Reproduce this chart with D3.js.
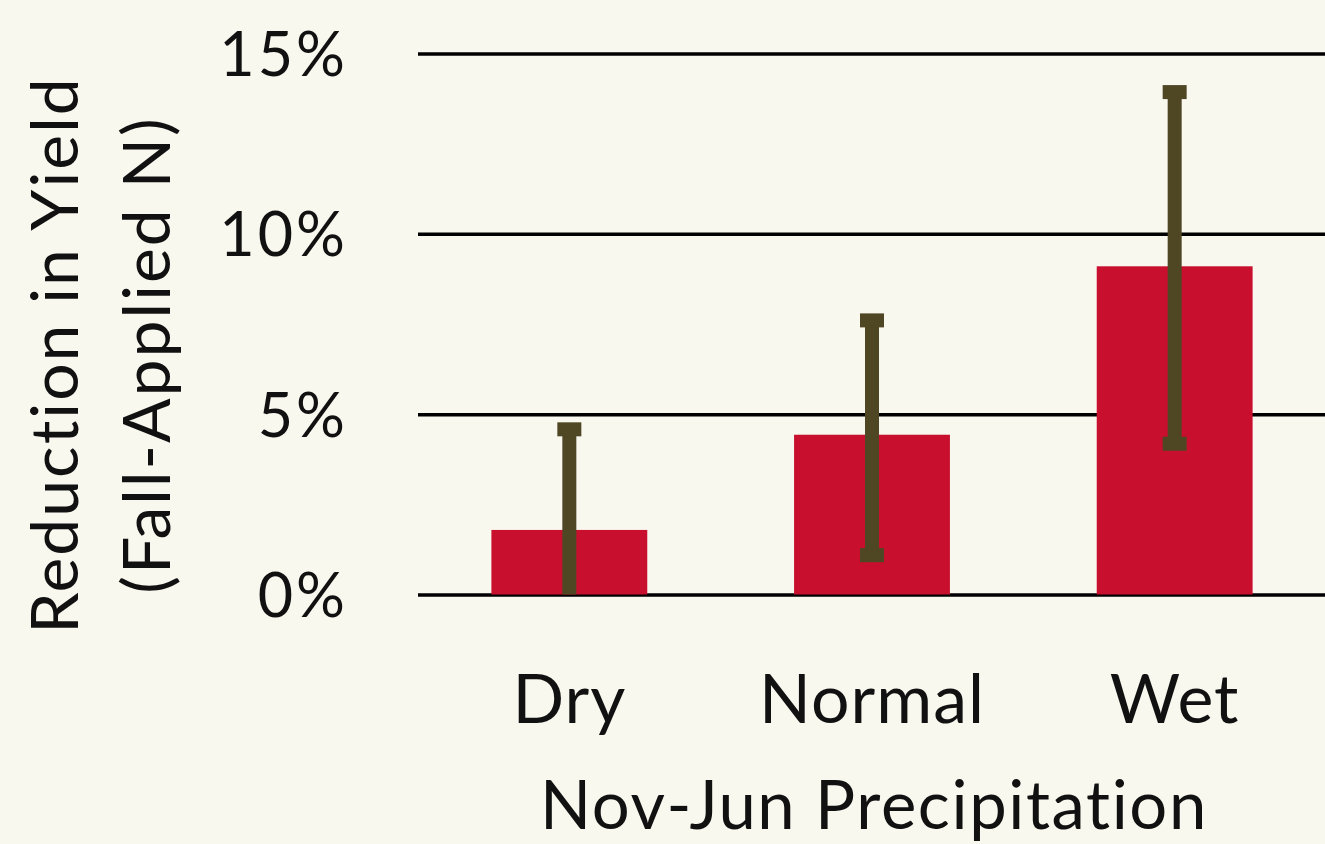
<!DOCTYPE html>
<html>
<head>
<meta charset="utf-8">
<script src="https://cdn.jsdelivr.net/npm/d3@7"></script>
<style>
  html, body { margin: 0; padding: 0; background: #F9F8EF; }
  svg { display: block; }
  text { font-family: Lato, "Open Sans", sans-serif; fill: #111; }
</style>
</head>
<body>
<svg id="chart" width="1325" height="844"></svg>
<script>
const categories = ["Dry", "Normal", "Wet"];
const values = [0.0179, 0.0443, 0.0910];
const errUpper = [0.0458, 0.0760, 0.1393];
const errLower = [-0.0100, 0.0109, 0.0418];
const yTicks = [0, 0.05, 0.10, 0.15];
const xTitle = "Nov-Jun Precipitation";
const yTitleLines = ["Reduction in Yield", "(Fall-Applied N)"];

const svg = d3.select("#chart");
const W = 1325, H = 844;
svg.append("rect").attr("width", W).attr("height", H).attr("fill", "#F9F8EF");

const x = d3.scaleBand().domain(categories).range([418, 1326])
  .paddingInner(0.485).paddingOuter(0.2425);
const y = d3.scaleLinear().domain([0, 0.15]).range([594.5, 53.5]);

svg.append("clipPath").attr("id", "plotclip").append("rect")
  .attr("x", 418).attr("y", 0).attr("width", 910).attr("height", y(0));

// gridlines
const grid = svg.append("g").call(
  d3.axisLeft(y).tickValues(yTicks).tickSize(-(1325 - 418)).tickFormat(d3.format(".0%"))
).attr("transform", "translate(418,0)");
grid.select(".domain").remove();
grid.selectAll(".tick line").attr("stroke", "#000").attr("stroke-width", 3.5);
grid.selectAll(".tick text")
  .attr("x", -70).attr("dy", "0.36em")
  .style("font-size", "61px").style("letter-spacing", "3px").attr("fill", "#111");

// bars
svg.append("g").selectAll("rect").data(categories).join("rect")
  .attr("x", d => x(d))
  .attr("width", x.bandwidth())
  .attr("y", (d, i) => y(values[i]))
  .attr("height", (d, i) => y(0) - y(values[i]))
  .attr("fill", "#C8102E");

// error bars
const eb = svg.append("g").attr("clip-path", "url(#plotclip)");
categories.forEach((c, i) => {
  const cx = x(c) + x.bandwidth() / 2;
  eb.append("rect").attr("x", cx - 7).attr("width", 14)
    .attr("y", y(errUpper[i])).attr("height", y(errLower[i]) - y(errUpper[i]))
    .attr("fill", "#4F4624");
  [errUpper[i], errLower[i]].forEach(v => {
    eb.append("rect").attr("x", cx - 12).attr("width", 24)
      .attr("y", y(v) - 7).attr("height", 14).attr("fill", "#4F4624");
  });
});

// x axis labels
const xa = svg.append("g").attr("transform", "translate(0,594.5)")
  .call(d3.axisBottom(x).tickSize(0).tickPadding(0));
xa.select(".domain").remove();
xa.selectAll(".tick text").attr("y", 128).attr("dy", 0)
  .style("font-size", "68px").style("letter-spacing", "1px").attr("fill", "#111");

svg.append("text").attr("x", 874).attr("y", 829)
  .attr("text-anchor", "middle").style("font-size", "67px")
  .style("letter-spacing", "1.6px").text(xTitle);

// y title
const yt = svg.append("text").attr("transform", "translate(0,355) rotate(-90)")
  .attr("text-anchor", "middle").style("font-size", "66px").style("letter-spacing", "2px");
yt.append("tspan").attr("x", 0).attr("y", 78).text(yTitleLines[0]);
yt.append("tspan").attr("x", 0).attr("y", 170).text(yTitleLines[1]);
</script>
</body>
</html>
